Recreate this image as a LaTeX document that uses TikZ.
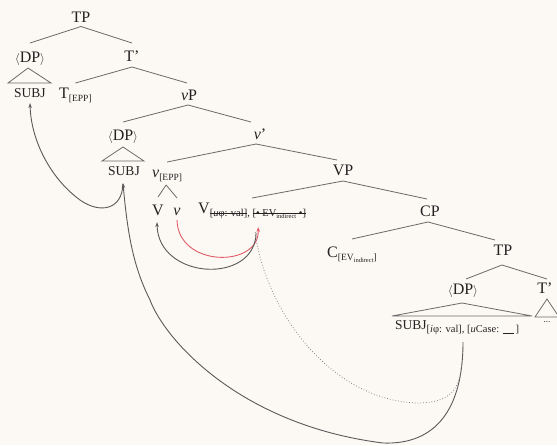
\documentclass[tikz,border=0pt]{standalone}
\usepackage{fontspec}
\setmainfont{Liberation Serif}
\usetikzlibrary{calc,arrows.meta}
\definecolor{bgc}{HTML}{FCF8F4}
\definecolor{lnc}{HTML}{6A6A6A}
\definecolor{txc}{HTML}{222222}
\definecolor{redc}{HTML}{E25C68}
\newcommand\strk[1]{\setbox0=\hbox{#1}\rlap{\rule[0.28em]{\wd0}{0.45pt}}\box0}
\newcommand\sbx[1]{\raisebox{-3pt}{\fontsize{9.5}{10}\selectfont #1}}
\newcommand\sbxl[1]{\raisebox{-3pt}{\fontsize{10.5}{11}\selectfont #1}}
\newcommand\ssbx[1]{\raisebox{-1.5pt}{\fontsize{6.5}{7}\selectfont #1}}
\newcommand\lng{{\fontsize{13}{14}\selectfont$\langle$}}
\newcommand\rng{{\fontsize{13}{14}\selectfont$\rangle$}}
\tikzset{
 lab/.style={font=\fontsize{16}{18}\selectfont, text=txc, inner sep=0pt, text height=11pt, text depth=0pt},
 sml/.style={font=\fontsize{13.5}{15}\selectfont, text=txc, inner sep=0pt, text height=9pt, text depth=0pt},
 br/.style={draw=lnc, line width=0.8pt},
 mv/.style={draw=lnc!85!black, line width=0.9pt, -{Stealth[length=5pt,width=3.5pt]}},
 mvred/.style={draw=redc, line width=0.9pt, -{Stealth[length=5pt,width=3.5pt]}},
 mvdot/.style={draw=lnc!80, line width=0.8pt, dotted},
}
\begin{document}
\begin{tikzpicture}[x=1pt,y=-1pt]
\fill[bgc] (0,0) rectangle (557,445);
\useasboundingbox (0,0) rectangle (557,445);
% nodes
\node[lab] (tp) at (81,16.5) {TP};
\node[lab] (dp1) at (30,56.5) {\lng DP\rng};
\node[lab] (tb1) at (132,56) {T'};
\node[sml] (subj1) at (30,93) {SUBJ};
\node[lab,anchor=west] (t1) at (59,93) {T\sbx{[EPP]}};
\node[lab] (vp) at (189,95) {\textit{v}P};
\node[lab] (dp2) at (123,135) {\lng DP\rng};
\node[lab] (vb) at (260,134) {\textit{v}'};
\node[sml] (subj2) at (124,171) {SUBJ};
\node[lab,anchor=west] (vepp) at (152,172) {\textit{v}\sbx{[EPP]}};
\node[lab] (VP) at (343,170) {VP};
\node[lab] (V) at (158,210) {V};
\node[lab] (v) at (177,210) {\textit{v}};
\node[lab,anchor=west] (Vf) at (198,208) {V\sbxl{\strk{[\textit{u}φ: val]}, \strk{[• EV\ssbx{indirect} •]}}};
\node[lab] (cp) at (430,211) {CP};
\node[lab,anchor=west] (c) at (327,252) {C\sbx{[EV\ssbx{indirect}]}};
\node[lab] (tp2) at (503,250) {TP};
\node[lab] (dp3) at (463,289) {\lng DP\rng};
\node[lab] (tb2) at (545,288) {T'};
\node[sml,anchor=west] (subj3) at (395,325) {SUBJ\sbxl{[\textit{i}φ: val], [\textit{u}Case: \rule[-0.5pt]{11pt}{0.4pt}\,]}};
\node[font=\fontsize{9}{9}\selectfont, text=txc, inner sep=0pt] (dots) at (547,322) {...};
% branches
\draw[br] ($(tp)+(0,10)$) -- ($(dp1)+(0,-13.5)$);
\draw[br] ($(tp)+(0,10)$) -- ($(tb1)+(0,-13)$);
\draw[br] ($(tb1)+(0,11)$) -- ($(t1.center)+(0,-10)$);
\draw[br] ($(tb1)+(0,11)$) -- ($(vp)+(-2,-12)$);
\draw[br] ($(vp)+(-1,10)$) -- ($(dp2)+(0,-13)$);
\draw[br] ($(vp)+(-1,10)$) -- ($(vb)+(-9,-12)$);
\draw[br] ($(vb)+(-4,10)$) -- ($(vepp.center)+(0,-10)$);
\draw[br] ($(vb)+(-4,10)$) -- ($(VP)+(-6,-10)$);
\draw[br] ($(VP)+(0,11)$) -- ($(Vf.center)+(0,-10)$);
\draw[br] ($(VP)+(0,11)$) -- ($(cp)+(-3,-12)$);
\draw[br] ($(cp)+(-2,11)$) -- ($(c.center)+(0,-13)$);
\draw[br] ($(cp)+(-2,11)$) -- ($(tp2)+(-8,-10)$);
\draw[br] ($(tp2)+(-1,15)$) -- ($(dp3)+(3,-10)$);
\draw[br] ($(tp2)+(-1,15)$) -- ($(tb2)+(2,-9)$);
\draw[br] ($(vepp.center)+(-1,13)$) -- ($(V)+(0,-13)$);
\draw[br] ($(vepp.center)+(-1,13)$) -- ($(v)+(0,-12)$);
% triangles
\draw[br] ($(dp1)+(-2,11.5)$) -- ($(dp1)+(-22,26.5)$) -- ($(dp1)+(21,26.5)$) -- cycle;
\draw[br] ($(dp2)+(0,12)$) -- ($(dp2)+(-21,26)$) -- ($(dp2)+(21,26)$) -- cycle;
\draw[br] ($(dp3)+(-1,14)$) -- ($(dp3)+(-71,27)$) -- ($(dp3)+(69,27)$) -- cycle;
\draw[br] ($(tb2)+(2,11)$) -- ($(tb2)+(-10,29)$) -- ($(tb2)+(14,29)$) -- cycle;
% movement arrows
\draw[mv] ($(subj2)+(-1,13)$) .. controls (122,210) and (100,214) .. (80,200)
   .. controls (50,178) and (31,140) .. ($(subj1)+(0,10)$);
\draw[mv] ($(subj3.west)+(68,17)$) .. controls (463,410) and (435,445) .. (383,443)
   .. controls (240,425) and (165,340) .. (150,300)
   .. controls (135,270) and (128,240) .. ($(subj2)+(-1,12)$);
\draw[mvdot] ($(Vf.center)+(3,24)$) .. controls (265,310) and (330,400) .. (417,403)
   .. controls (450,403) and (460,390) .. ($(subj3.west)+(67,37)$);
\draw[mvred] ($(v)+(0,10)$) .. controls (178,268) and (260,268) .. ($(Vf.center)+(6,19)$);
\draw[mv] ($(Vf.center)+(4,25)$) .. controls (255,285) and (158,280) .. ($(V)+(-1,12)$);
\end{tikzpicture}
\end{document}
